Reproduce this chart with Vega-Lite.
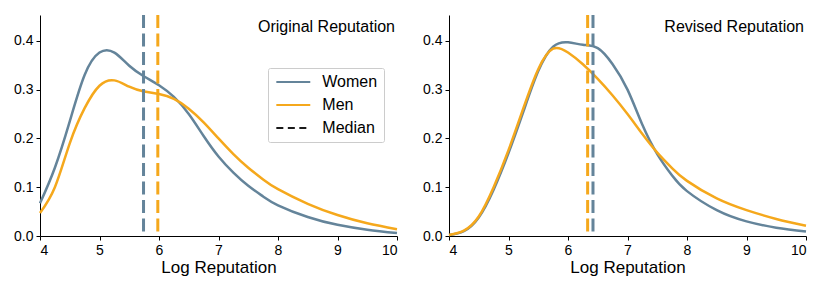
{
  "$schema": "https://vega.github.io/schema/vega-lite/v6.json",
  "padding": {"left": 13, "top": 13, "right": 5, "bottom": 5},
  "background": "white",
  "config": {
    "view": {"stroke": null},
    "font": "Liberation Sans",
    "axis": {
      "grid": false,
      "domainColor": "black",
      "domainWidth": 1,
      "tickColor": "black",
      "tickWidth": 1,
      "tickSize": 4,
      "labelColor": "black",
      "labelFont": "Liberation Sans",
      "labelFontSize": 14,
      "labelPadding": 3,
      "titleFont": "Liberation Sans",
      "titleFontSize": 17,
      "titleFontWeight": "normal",
      "titleColor": "black",
      "titlePadding": 2
    }
  },
  "datasets": {
    "curves": [
      {"panel": "Original", "key": "Women", "x": 4.0, "y": 0.067},
      {"panel": "Original", "key": "Women", "x": 4.25, "y": 0.14},
      {"panel": "Original", "key": "Women", "x": 4.5, "y": 0.235},
      {"panel": "Original", "key": "Women", "x": 4.75, "y": 0.33},
      {"panel": "Original", "key": "Women", "x": 5.0, "y": 0.376},
      {"panel": "Original", "key": "Women", "x": 5.25, "y": 0.376},
      {"panel": "Original", "key": "Women", "x": 5.5, "y": 0.349},
      {"panel": "Original", "key": "Women", "x": 5.75, "y": 0.327},
      {"panel": "Original", "key": "Women", "x": 6.0, "y": 0.309},
      {"panel": "Original", "key": "Women", "x": 6.25, "y": 0.285},
      {"panel": "Original", "key": "Women", "x": 6.5, "y": 0.25},
      {"panel": "Original", "key": "Women", "x": 6.75, "y": 0.205},
      {"panel": "Original", "key": "Women", "x": 7.0, "y": 0.163},
      {"panel": "Original", "key": "Women", "x": 7.25, "y": 0.13},
      {"panel": "Original", "key": "Women", "x": 7.5, "y": 0.103},
      {"panel": "Original", "key": "Women", "x": 7.75, "y": 0.081},
      {"panel": "Original", "key": "Women", "x": 8.0, "y": 0.063},
      {"panel": "Original", "key": "Women", "x": 8.5, "y": 0.039},
      {"panel": "Original", "key": "Women", "x": 9.0, "y": 0.023},
      {"panel": "Original", "key": "Women", "x": 9.5, "y": 0.013},
      {"panel": "Original", "key": "Women", "x": 10.0, "y": 0.006},
      {"panel": "Original", "key": "Men", "x": 4.0, "y": 0.047},
      {"panel": "Original", "key": "Men", "x": 4.25, "y": 0.1},
      {"panel": "Original", "key": "Men", "x": 4.5, "y": 0.19},
      {"panel": "Original", "key": "Men", "x": 4.75, "y": 0.262},
      {"panel": "Original", "key": "Men", "x": 5.0, "y": 0.308},
      {"panel": "Original", "key": "Men", "x": 5.25, "y": 0.319},
      {"panel": "Original", "key": "Men", "x": 5.5, "y": 0.306},
      {"panel": "Original", "key": "Men", "x": 5.75, "y": 0.296},
      {"panel": "Original", "key": "Men", "x": 6.0, "y": 0.291},
      {"panel": "Original", "key": "Men", "x": 6.25, "y": 0.281},
      {"panel": "Original", "key": "Men", "x": 6.5, "y": 0.261},
      {"panel": "Original", "key": "Men", "x": 6.75, "y": 0.233},
      {"panel": "Original", "key": "Men", "x": 7.0, "y": 0.2},
      {"panel": "Original", "key": "Men", "x": 7.25, "y": 0.168},
      {"panel": "Original", "key": "Men", "x": 7.5, "y": 0.14},
      {"panel": "Original", "key": "Men", "x": 7.75, "y": 0.116},
      {"panel": "Original", "key": "Men", "x": 8.0, "y": 0.096},
      {"panel": "Original", "key": "Men", "x": 8.5, "y": 0.066},
      {"panel": "Original", "key": "Men", "x": 9.0, "y": 0.043},
      {"panel": "Original", "key": "Men", "x": 9.5, "y": 0.026},
      {"panel": "Original", "key": "Men", "x": 10.0, "y": 0.014},
      {"panel": "Revised", "key": "Women", "x": 4.0, "y": 0.002},
      {"panel": "Revised", "key": "Women", "x": 4.25, "y": 0.01},
      {"panel": "Revised", "key": "Women", "x": 4.5, "y": 0.038},
      {"panel": "Revised", "key": "Women", "x": 4.75, "y": 0.095},
      {"panel": "Revised", "key": "Women", "x": 5.0, "y": 0.17},
      {"panel": "Revised", "key": "Women", "x": 5.25, "y": 0.255},
      {"panel": "Revised", "key": "Women", "x": 5.5, "y": 0.338},
      {"panel": "Revised", "key": "Women", "x": 5.75, "y": 0.388},
      {"panel": "Revised", "key": "Women", "x": 6.0, "y": 0.397},
      {"panel": "Revised", "key": "Women", "x": 6.25, "y": 0.392},
      {"panel": "Revised", "key": "Women", "x": 6.5, "y": 0.385},
      {"panel": "Revised", "key": "Women", "x": 6.75, "y": 0.352},
      {"panel": "Revised", "key": "Women", "x": 7.0, "y": 0.3},
      {"panel": "Revised", "key": "Women", "x": 7.25, "y": 0.228},
      {"panel": "Revised", "key": "Women", "x": 7.5, "y": 0.168},
      {"panel": "Revised", "key": "Women", "x": 7.75, "y": 0.124},
      {"panel": "Revised", "key": "Women", "x": 8.0, "y": 0.092},
      {"panel": "Revised", "key": "Women", "x": 8.5, "y": 0.053},
      {"panel": "Revised", "key": "Women", "x": 9.0, "y": 0.03},
      {"panel": "Revised", "key": "Women", "x": 9.5, "y": 0.017},
      {"panel": "Revised", "key": "Women", "x": 10.0, "y": 0.009},
      {"panel": "Revised", "key": "Men", "x": 4.0, "y": 0.002},
      {"panel": "Revised", "key": "Men", "x": 4.25, "y": 0.011},
      {"panel": "Revised", "key": "Men", "x": 4.5, "y": 0.04},
      {"panel": "Revised", "key": "Men", "x": 4.75, "y": 0.1},
      {"panel": "Revised", "key": "Men", "x": 5.0, "y": 0.176},
      {"panel": "Revised", "key": "Men", "x": 5.25, "y": 0.262},
      {"panel": "Revised", "key": "Men", "x": 5.5, "y": 0.342},
      {"panel": "Revised", "key": "Men", "x": 5.75, "y": 0.384},
      {"panel": "Revised", "key": "Men", "x": 6.0, "y": 0.376},
      {"panel": "Revised", "key": "Men", "x": 6.25, "y": 0.352},
      {"panel": "Revised", "key": "Men", "x": 6.5, "y": 0.322},
      {"panel": "Revised", "key": "Men", "x": 6.75, "y": 0.288},
      {"panel": "Revised", "key": "Men", "x": 7.0, "y": 0.25},
      {"panel": "Revised", "key": "Men", "x": 7.25, "y": 0.209},
      {"panel": "Revised", "key": "Men", "x": 7.5, "y": 0.171},
      {"panel": "Revised", "key": "Men", "x": 7.75, "y": 0.139},
      {"panel": "Revised", "key": "Men", "x": 8.0, "y": 0.113},
      {"panel": "Revised", "key": "Men", "x": 8.5, "y": 0.077},
      {"panel": "Revised", "key": "Men", "x": 9.0, "y": 0.053},
      {"panel": "Revised", "key": "Men", "x": 9.5, "y": 0.035},
      {"panel": "Revised", "key": "Men", "x": 10.0, "y": 0.021}
    ],
    "medians": [
      {"panel": "Original", "key": "Women", "m": 5.74},
      {"panel": "Original", "key": "Men", "m": 5.98},
      {"panel": "Revised", "key": "Men", "m": 6.33},
      {"panel": "Revised", "key": "Women", "m": 6.42}
    ]
  },
  "hconcat": [
    {
      "width": 357,
      "height": 221,
      "title": {"text": "Original Reputation", "anchor": "end", "frame": "group", "offset": -34, "baseline": "alphabetic", "fontSize": 16, "fontWeight": "normal", "font": "Liberation Sans", "color": "black", "dx": -2},
      "layer": [
        {
          "data": {"name": "curves"},
          "transform": [{"filter": "datum.panel === 'Original'"}],
          "mark": {"type": "line", "strokeWidth": 2.5, "interpolate": "natural"},
          "encoding": {
            "x": {"field": "x", "type": "quantitative", "scale": {"domain": [4, 10], "nice": false}, "axis": {"title": "Log Reputation", "values": [4, 5, 6, 7, 8, 9, 10], "format": "d"}},
            "y": {"field": "y", "type": "quantitative", "scale": {"domain": [0, 0.453], "nice": false}, "axis": {"title": null, "values": [0, 0.1, 0.2, 0.3, 0.4], "format": ".1f"}},
            "color": {
              "field": "key", "type": "nominal",
              "scale": {"domain": ["Women", "Men", "Median"], "range": ["#64849a", "#f5a81c", "#1a1a1a"]},
              "legend": {
                "orient": "none", "legendX": 228, "legendY": 53, "title": null,
                "symbolType": "M-3,0H3", "symbolSize": 128, "symbolStrokeWidth": 2.2,
                "labelFontSize": 16, "labelFont": "Liberation Sans", "labelColor": "black",
                "padding": 6, "rowPadding": 7, "symbolOffset": 11.3, "labelOffset": 21,
                "fillColor": "white", "strokeColor": "#cccccc", "cornerRadius": 2,
                "encode": {"symbols": {"update": {"strokeDash": {"signal": "datum.value === 'Median' ? [7, 4.5] : [1, 0]"}}}}
              }
            }
          }
        },
        {
          "data": {"name": "medians"},
          "transform": [{"filter": "datum.panel === 'Original'"}],
          "mark": {"type": "rule", "strokeWidth": 3, "strokeDash": [13, 5.5]},
          "encoding": {
            "x": {"field": "m", "type": "quantitative"},
            "color": {"field": "key", "type": "nominal"}
          }
        }
      ]
    },
    {
      "width": 357,
      "height": 221,
      "title": {"text": "Revised Reputation", "anchor": "end", "frame": "group", "offset": -34, "baseline": "alphabetic", "fontSize": 16, "fontWeight": "normal", "font": "Liberation Sans", "color": "black", "dx": -2},
      "layer": [
        {
          "data": {"name": "curves"},
          "transform": [{"filter": "datum.panel === 'Revised'"}],
          "mark": {"type": "line", "strokeWidth": 2.5, "interpolate": "natural"},
          "encoding": {
            "x": {"field": "x", "type": "quantitative", "scale": {"domain": [4, 10], "nice": false}, "axis": {"title": "Log Reputation", "values": [4, 5, 6, 7, 8, 9, 10], "format": "d"}},
            "y": {"field": "y", "type": "quantitative", "scale": {"domain": [0, 0.453], "nice": false}, "axis": {"title": null, "values": [0, 0.1, 0.2, 0.3, 0.4], "format": ".1f"}},
            "color": {"field": "key", "type": "nominal", "scale": {"domain": ["Women", "Men", "Median"], "range": ["#64849a", "#f5a81c", "#1a1a1a"]}, "legend": null}
          }
        },
        {
          "data": {"name": "medians"},
          "transform": [{"filter": "datum.panel === 'Revised'"}],
          "mark": {"type": "rule", "strokeWidth": 3, "strokeDash": [13, 5.5]},
          "encoding": {
            "x": {"field": "m", "type": "quantitative"},
            "color": {"field": "key", "type": "nominal", "legend": null}
          }
        }
      ]
    }
  ],
  "spacing": 52,
  "bounds": "flush",
  "resolve": {"legend": {"color": "independent"}}
}
